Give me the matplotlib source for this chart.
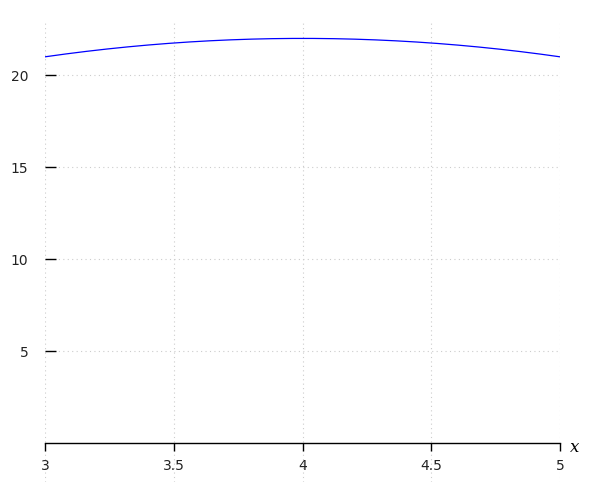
import numpy as np
import matplotlib
matplotlib.use("Agg")
import matplotlib.pyplot as plt

# curve samples: y = 22 - (x-4)^2 shape
x_vals = [3.0, 3.25, 3.5, 3.75, 4.0, 4.25, 4.5, 4.75, 5.0]
y_vals = [21.0, 21.4375, 21.75, 21.9375, 22.0, 21.9375, 21.75, 21.4375, 21.0]
x_ticks = [3, 3.5, 4, 4.5, 5]
x_tick_labels = ["3", "3.5", "4", "4.5", "5"]
y_ticks = [5, 10, 15, 20]

# smooth the quadratic through the read points
coef = np.polyfit(x_vals, y_vals, 2)
xs = np.linspace(3, 5, 400)
ys = np.polyval(coef, xs)

fig = plt.figure(figsize=(6, 5), dpi=100)
ax = fig.add_axes([45/600, 1 - 482/500, 515/600, 462/500])
ax.plot(xs, ys, color="blue", lw=0.9)
ax.set_xlim(3, 5)
ax.set_ylim(-2.1, 23.0)

for s in ["top", "right", "left"]:
    ax.spines[s].set_visible(False)
ax.spines["bottom"].set_position(("data", 0))
ax.spines["bottom"].set_color("black")
ax.spines["bottom"].set_linewidth(1.0)

ax.set_xticks(x_ticks)
ax.set_xticklabels(x_tick_labels)
ax.set_yticks(y_ticks)
ax.tick_params(axis="x", direction="out", length=6, width=1, pad=5, labelsize=10, colors="black", labelcolor="#222222")
ax.tick_params(axis="y", direction="in", length=8, width=1, pad=12, labelsize=10, colors="black", labelcolor="#222222")
ax.grid(True, color="#cccccc", linestyle=(0, (1, 3)), linewidth=0.8)
ax.text(5.04, -0.2, "x", fontsize=12, fontstyle="italic", family="DejaVu Serif",
        va="center", ha="left")

fig.savefig("out.png", dpi=100)
